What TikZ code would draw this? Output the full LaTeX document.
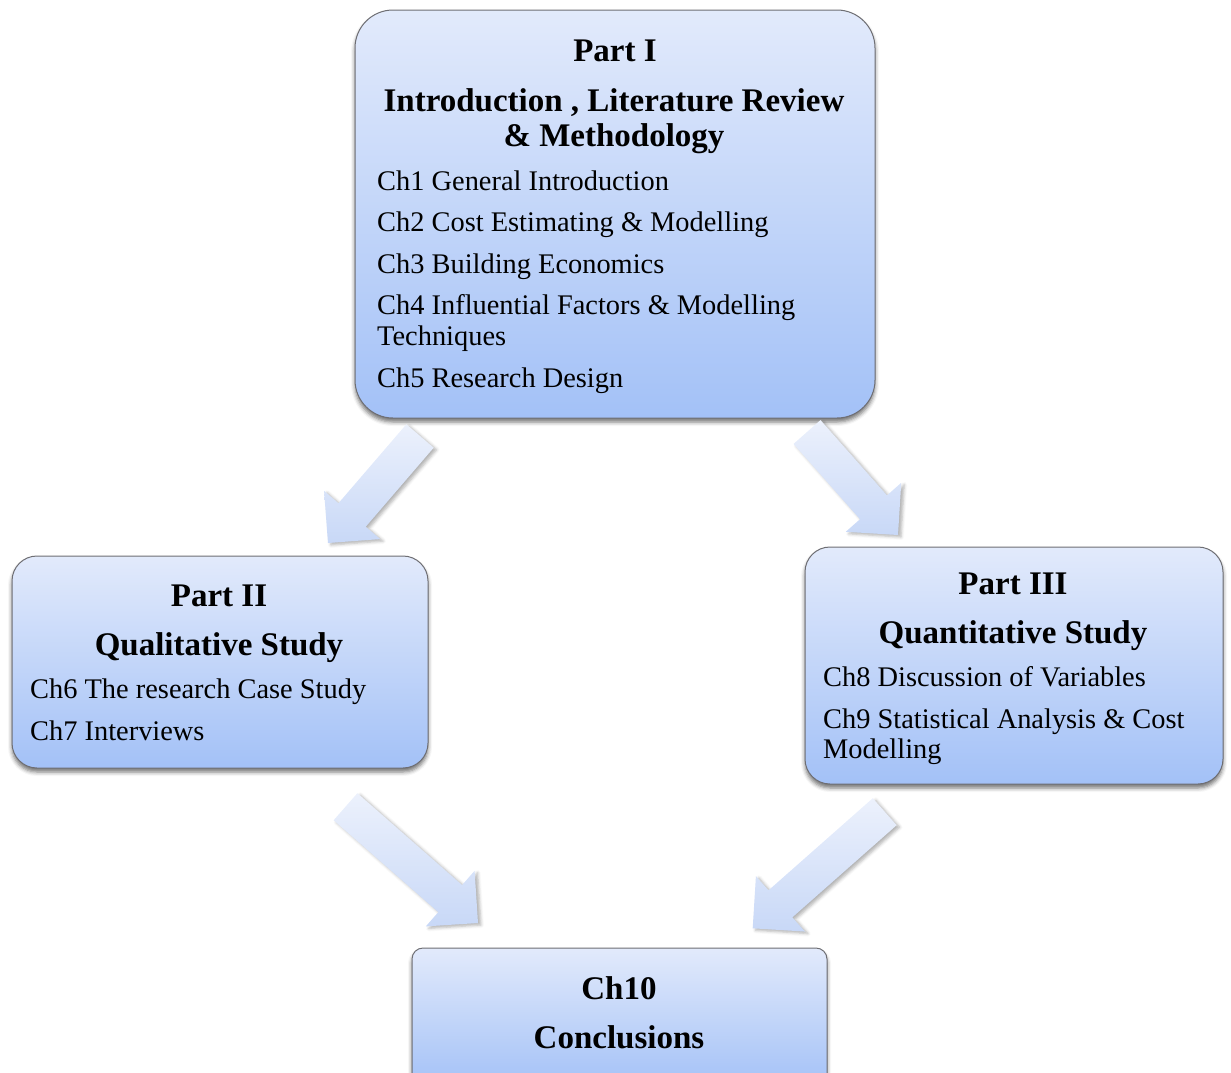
\documentclass[tikz,border=0pt]{standalone}
\usepackage{fontspec}
\setmainfont{Liberation Serif}
\usetikzlibrary{calc,shadows.blur}

\definecolor{boxtop}{RGB}{226,234,251}
\definecolor{boxbot}{RGB}{163,193,247}
\definecolor{boxline}{RGB}{110,110,115}
\definecolor{arrtop}{RGB}{236,241,252}
\definecolor{arrbot}{RGB}{200,216,247}

\tikzset{
  part/.style={draw=boxline, line width=1pt, top color=boxtop, bottom color=boxbot,
    inner sep=0pt,
    blur shadow={shadow xshift=0pt, shadow yshift=-4pt, shadow blur radius=4pt, shadow opacity=55}},
  head/.style={font=\fontsize{33}{35}\selectfont\bfseries, inner sep=0pt, anchor=base},
  item/.style={font=\fontsize{28.4}{30}\selectfont, inner sep=0pt, anchor=base west},
  arrowbody/.style={top color=arrtop, bottom color=arrbot,
    blur shadow={shadow xshift=3pt, shadow yshift=-2pt, shadow blur radius=3pt, shadow opacity=30}},
}

% wide block arrow from a tail coordinate to a tip coordinate
\newcommand\blockarrow[2]{%
  \coordinate (#1-b) at ($(#2)!37pt!(#1)$);
  \path[arrowbody] ($(#1)!18pt!90:(#2)$) -- ($(#1-b)!18pt!90:(#2)$)
    -- ($(#1-b)!37pt!90:(#2)$) -- (#2) -- ($(#1-b)!37pt!-90:(#2)$)
    -- ($(#1-b)!18pt!-90:(#2)$) -- ($(#1)!18pt!-90:(#2)$) -- cycle;}

\begin{document}
\begin{tikzpicture}[x=1pt, y=-1pt]
\useasboundingbox (0,0) rectangle (1231,1072);

% boxes
\node[part, rounded corners=38pt, minimum width=520pt, minimum height=408pt] (p1) at (615,214) {};
\node[part, rounded corners=25pt, minimum width=416pt, minimum height=212pt] (p2) at (220,662) {};
\node[part, rounded corners=25pt, minimum width=418pt, minimum height=237pt] (p3) at (1014,665.5) {};
\node[part, rounded corners=11pt, minimum width=415pt, minimum height=140pt] (p4) at (619.5,1018) {};

% Part I
\node[head] (p1h1) at (615,61) {Part I};
\node[head] (p1h2) at (614,111) {Introduction , Literature Review};
\node[head] (p1h3) at (614,146) {\& Methodology};
\node[item] (c1) at (377,190) {Ch1 General Introduction};
\node[item] (c2) at (377,231) {Ch2 Cost Estimating \& Modelling};
\node[item] (c3) at (377,273) {Ch3 Building Economics};
\node[item] (c4) at (377,314) {Ch4 Influential Factors \& Modelling};
\node[item] (c4b) at (377,345) {Techniques};
\node[item] (c5) at (377,387) {Ch5 Research Design};

% Part II
\node[head] (p2h1) at (219,606) {Part II};
\node[head] (p2h2) at (219,655) {Qualitative Study};
\node[item] (c6) at (30,698) {Ch6 The research Case Study};
\node[item] (c7) at (30,740) {Ch7 Interviews};

% Part III
\node[head] (p3h1) at (1013,594) {Part III};
\node[head] (p3h2) at (1013,643) {Quantitative Study};
\node[item] (c8) at (823,686) {Ch8 Discussion of Variables};
\node[item] (c9) at (823,728) {Ch9 Statistical Analysis \& Cost};
\node[item] (c9b) at (823,758) {Modelling};

% Conclusions
\node[head] (p4h1) at (619,999) {Ch10};
\node[head] (p4h2) at (619,1048) {Conclusions};

% arrow ends
\coordinate (a1) at (420,436);   \coordinate (a1tip) at (328,543);
\coordinate (a2) at (807,432);   \coordinate (a2tip) at (898,535);
\coordinate (a3) at (345.5,806.7); \coordinate (a3tip) at (478,923);
\coordinate (a4) at (884.7,811.7); \coordinate (a4tip) at (752.7,928.3);

\blockarrow{a1}{a1tip}
\blockarrow{a2}{a2tip}
\blockarrow{a3}{a3tip}
\blockarrow{a4}{a4tip}
\end{tikzpicture}
\end{document}
